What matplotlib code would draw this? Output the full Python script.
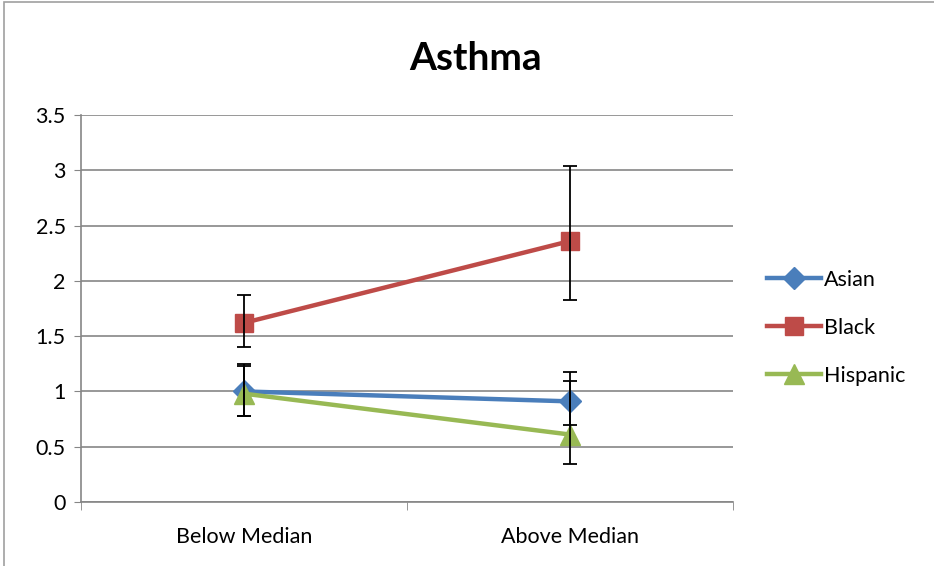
import matplotlib.pyplot as plt
from matplotlib.patches import Rectangle

categories = ["Below Median", "Above Median"]
series = ["Asian", "Black", "Hispanic"]
asian = [1.00, 0.91]
black = [1.62, 2.36]
hispanic = [0.98, 0.61]
# error bar ends (lower, upper)
asian_lo = [0.78, 0.70]
asian_hi = [1.25, 1.18]
black_lo = [1.40, 1.83]
black_hi = [1.87, 3.04]
hispanic_lo = [0.78, 0.34]
hispanic_hi = [1.23, 1.09]

plt.rcParams['font.family'] = ['Lato', 'DejaVu Sans']

fig = plt.figure(figsize=(9.34, 5.66), dpi=100)
ax = fig.add_axes([81/934, 1 - 502/566, (733-81)/934, (502-115)/566])

# chart frame (left and top edges visible)
fig.patches.append(Rectangle((4/934, -0.1), 2, 1.1 - 2/566, transform=fig.transFigure,
                             fill=False, edgecolor='#a0a0a0', lw=1.2))

x = list(range(len(categories)))
styles = [
    (asian, asian_lo, asian_hi, '#4a7ebb', 'D', 11),
    (black, black_lo, black_hi, '#be4b48', 's', 13),
    (hispanic, hispanic_lo, hispanic_hi, '#98b954', '^', 14),
]
for name, (vals, lo, hi, col, mk, ms) in zip(series, styles):
    err = [[v - l for v, l in zip(vals, lo)], [h - v for v, h in zip(vals, hi)]]
    ax.errorbar(x, vals, yerr=err, fmt='none', ecolor='black', elinewidth=1.3,
                capsize=5, capthick=1.3, zorder=4)
    ax.plot(x, vals, color=col, lw=3.2, marker=mk, markersize=ms, label=name, zorder=3)

ax.set_xlim(-0.5, 1.5)
ax.set_ylim(0, 3.5)
ax.set_yticks([0, 0.5, 1, 1.5, 2, 2.5, 3, 3.5])
ax.set_yticklabels(['0', '0.5', '1', '1.5', '2', '2.5', '3', '3.5'])
ax.set_xticks(x)
ax.set_xticklabels(categories)
ax.set_xticks([-0.5, 0.5, 1.5], minor=True)
ax.tick_params(axis='x', which='major', length=0, pad=18, labelsize=15.5)
ax.tick_params(axis='x', which='minor', length=6, color='#868686')
ax.tick_params(axis='y', length=5, color='#868686', labelsize=15.5, pad=6)
ax.yaxis.grid(True, color='#868686', lw=1.2)
ax.set_axisbelow(True)
for s in ['top', 'right']:
    ax.spines[s].set_visible(False)
for s in ['left', 'bottom']:
    ax.spines[s].set_color('#868686')
    ax.spines[s].set_linewidth(1.2)

fig.text(476/934, 1 - 58/566, "Asthma", ha='center', va='center',
         fontsize=28, fontweight='bold')

ax.legend(loc='center left', bbox_to_anchor=(1.022, 0.45), frameon=False,
          fontsize=15.5, handlelength=2.5, handletextpad=0.15, labelspacing=1.3)

fig.savefig('out.png', dpi=100)
